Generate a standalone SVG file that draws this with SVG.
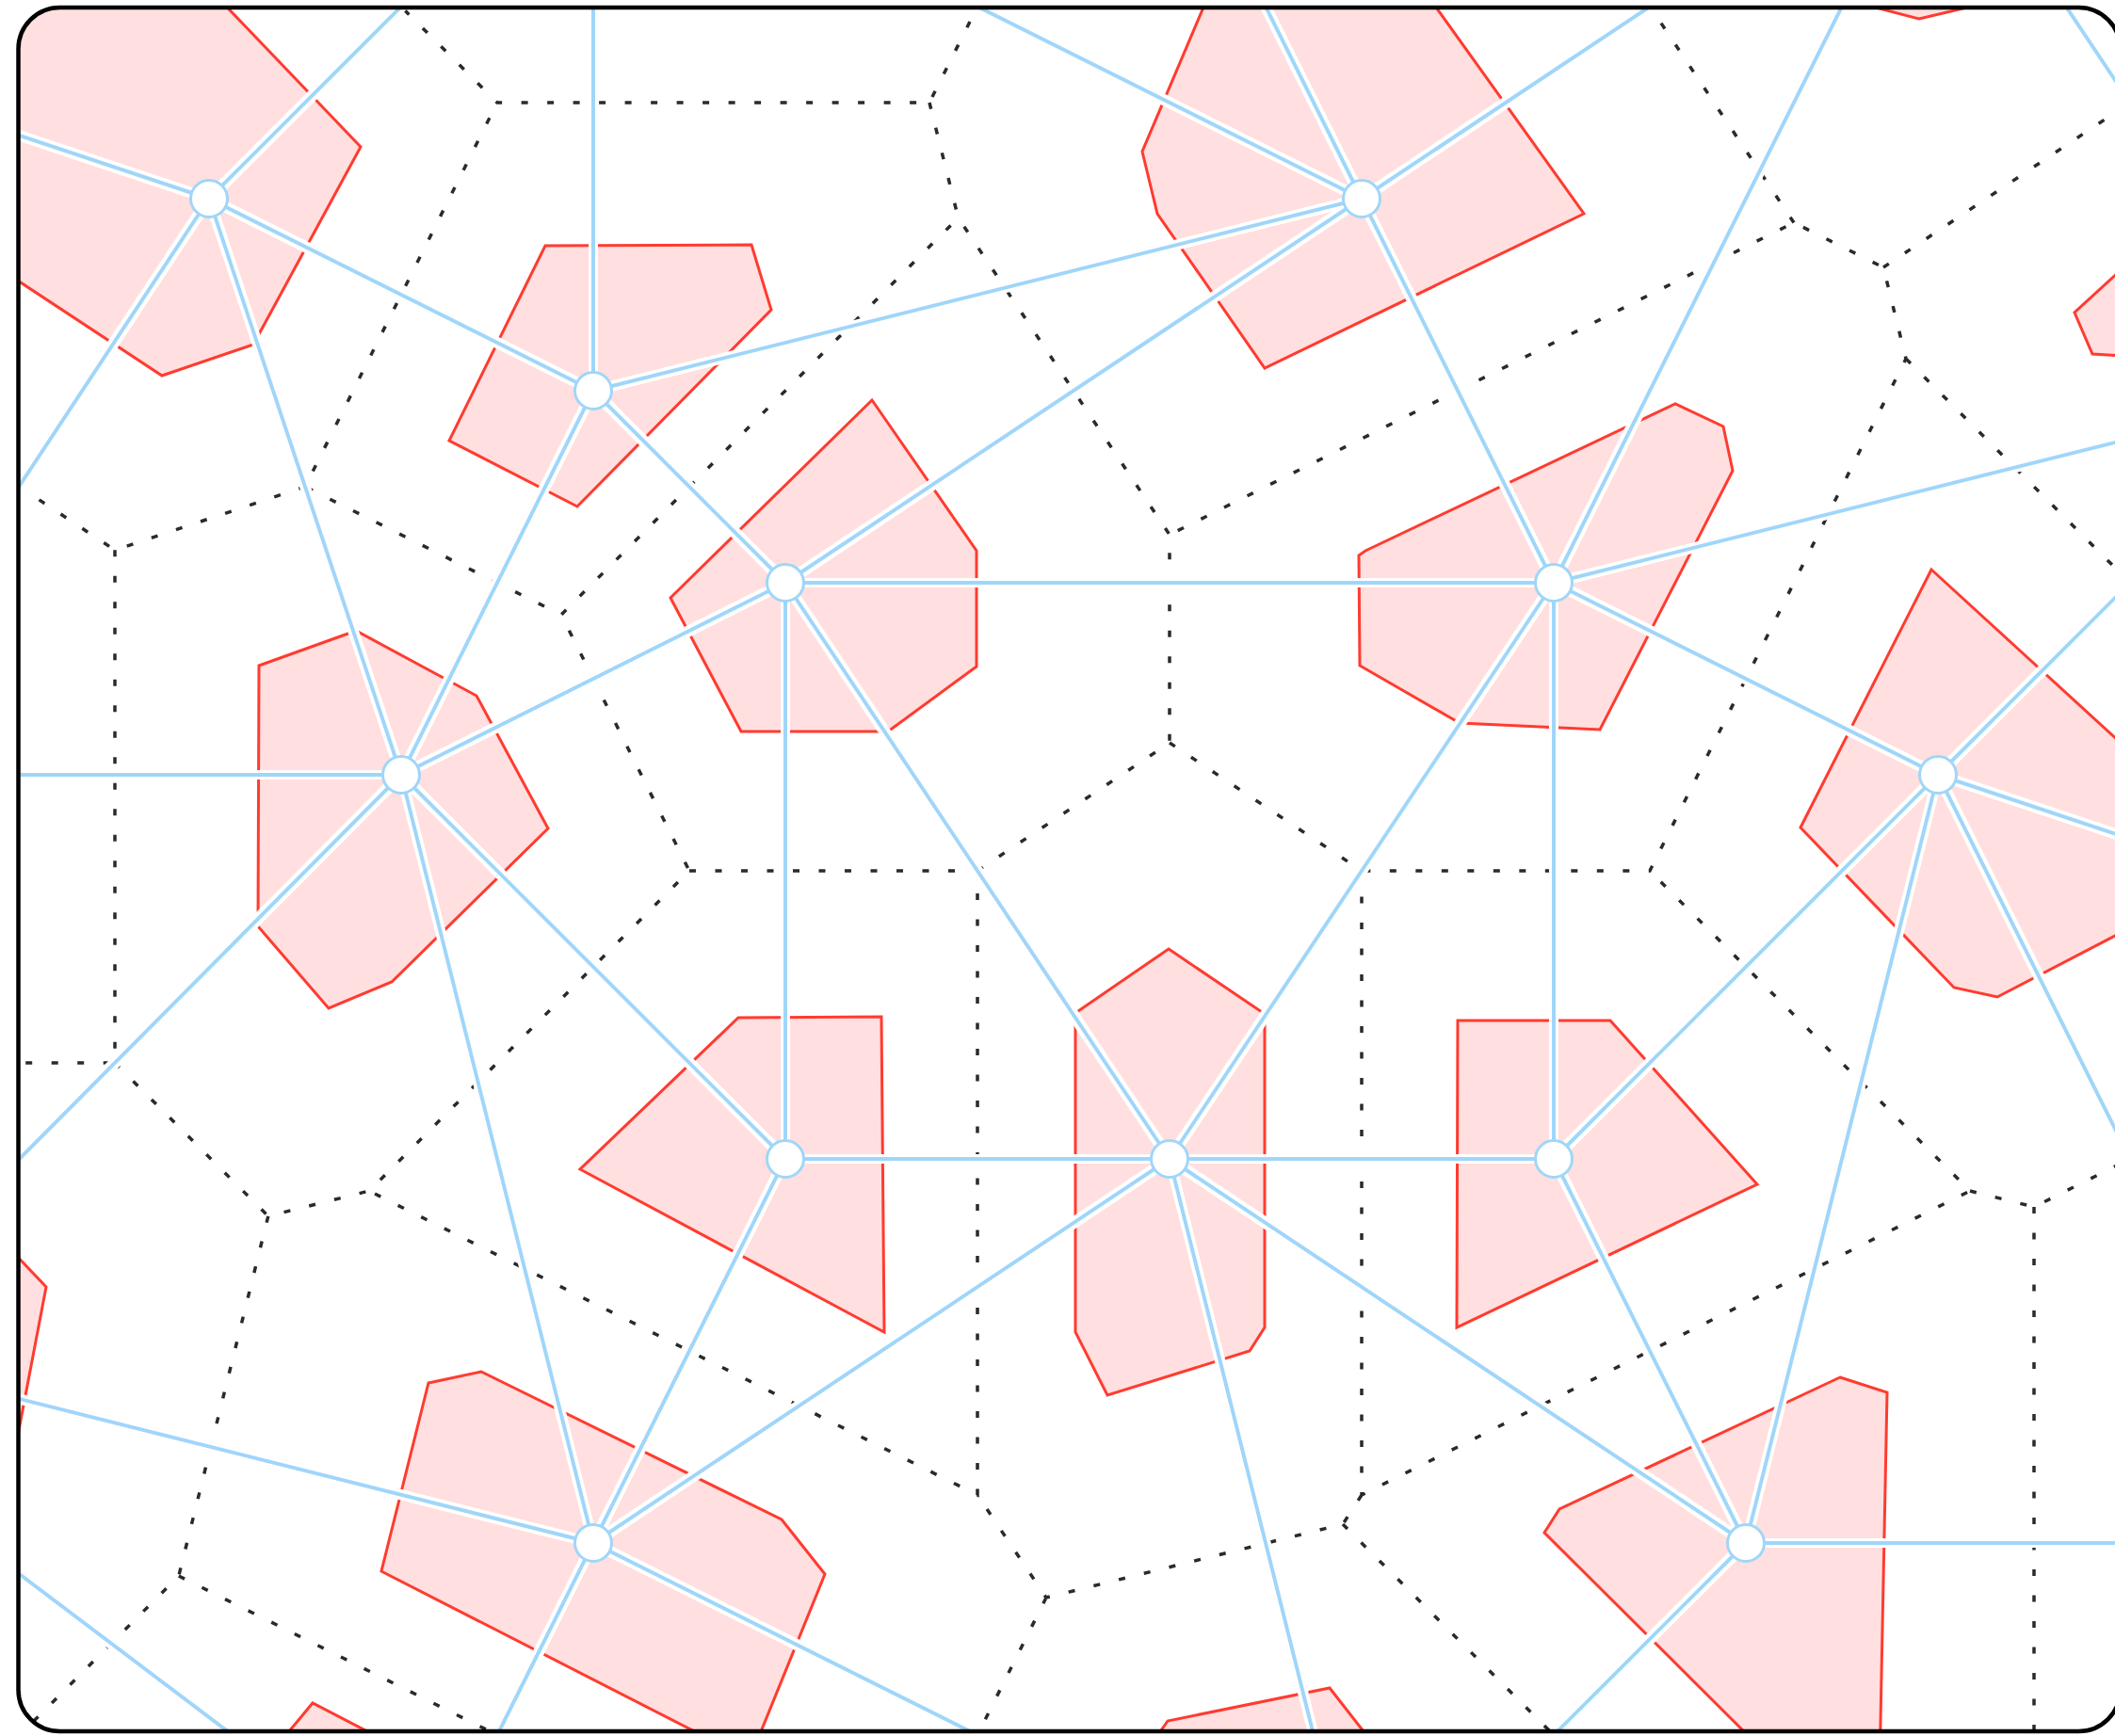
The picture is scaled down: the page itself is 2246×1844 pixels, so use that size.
<svg xmlns="http://www.w3.org/2000/svg" width="2246" height="1844" viewBox="0 0 2246 1844">
<style>
.cell{fill:#ffdfdf;stroke:#ff3b30;stroke-width:3;stroke-linejoin:miter}
.vor{fill:none;stroke:#2a2a2a;stroke-width:3.5;stroke-dasharray:7 20.5}
.edge{stroke:#9fd6f9;stroke-width:4;fill:none}
.node{fill:#fff;stroke:#9fd6f9;stroke-width:3}
</style>
<defs>
<clipPath id="frameClip"><rect x="19.5" y="8" width="2232" height="1831" rx="44"/></clipPath>
<filter id="halo" x="-5%" y="-5%" width="110%" height="110%">
<feMorphology in="SourceAlpha" operator="dilate" radius="2.5" result="d"/>
<feFlood flood-color="#ffffff"/>
<feComposite in2="d" operator="in" result="w"/>
<feMerge><feMergeNode in="w"/><feMergeNode in="SourceGraphic"/></feMerge>
</filter>
</defs>
<rect width="2246" height="1844" fill="#fff"/>
<g clip-path="url(#frameClip)">
<g id="cells">
<polygon id="cell-n1" class="cell" points="205,-30 383,156 269,366 172,399 -60,246 -60,-30"/>
<polygon id="cell-n2" class="cell" points="579,261 798,260 819,329 613,538 477,468"/>
<polygon id="cell-n3" class="cell" points="1294,-30 1213,161 1229,227 1343,391 1682,227 1498,-30"/>
<polygon id="cell-n4" class="cell" points="926,425 1037,585 1037,708 943,777 787,777 712,635"/>
<polygon id="cell-n5" class="cell" points="1450,585 1779,429 1830,453 1840,500 1699,775 1550,768 1444,707 1443,590"/>
<polygon id="cell-n6" class="cell" points="275,707 378,670 506,739 582,880 416,1043 349,1071 274,984"/>
<polygon id="cell-n7" class="cell" points="2051,605 2300,833 2300,966 2121,1059 2075,1049 1912,879"/>
<polygon id="cell-n8" class="cell" points="784,1081 936,1080 939,1415 616,1242"/>
<polygon id="cell-n9" class="cell" points="1241,1008 1343,1077 1343,1410 1327,1435 1176,1482 1142,1415 1142,1076"/>
<polygon id="cell-n10" class="cell" points="1548,1084 1710,1084 1866,1258 1547,1410"/>
<polygon id="cell-n11" class="cell" points="455,1469 511,1457 830,1614 876,1672 796,1869 405,1669"/>
<polygon id="cell-n12" class="cell" points="1954,1463 2004,1479 1996,1880 1893,1880 1640,1628 1656,1603"/>
<polygon id="cell-c" class="cell" points="1923,-10 2038,20 2165,-10"/>
<polygon id="cell-d" class="cell" points="2300,243 2203,332 2222,376 2300,381"/>
<polygon id="cell-f" class="cell" points="-60,1252 49,1367 0,1624 -60,1624"/>
<polygon id="cell-g" class="cell" points="273,1880 332,1809 469,1880"/>
<polygon id="cell-h" class="cell" points="1204,1880 1240,1828 1412,1793 1480,1880"/>
</g>
<g id="voronoi">
<path class="vor" d="M410,-9 L528,109 L987,109 L1046,-9 M987,109 L1017.6,231.4 L596,653 L324,517 L528,109 M324,517 L122,584.3 L-20,490 M122,584.3 L122,1129 L-20,1129 M122,1129 L284.8,1291.8 L392,1265 L732,925 L596,653 M284.8,1291.8 L189.8,1674 L-20,1884 M189.8,1674 L528,1843 M732,925 L1038,925 L1038,1588 L392,1265 M1038,925 L1242,789 L1242,568 L1017.6,231.4 M1242,789 L1446,925 L1752,925 L2024,381 L2000,284 L1905,236.5 L1242,568 M1905,236.5 L1741,-10 M2000,284 L2262,109 M2024,381 L2262,619 M1446,925 L1446,1588 L2092,1265 L1752,925 M1446,1588 L1426,1619 L1111,1697 L1038,1588 M1426,1619 L1650,1843 M1111,1697 L1038,1843 M2092,1265 L2160,1282 L2262,1231 M2160,1282 L2160,1843"/>
</g>
<g id="connectors" filter="url(#halo)">
<line class="edge" x1="222" y1="211" x2="630" y2="-197"/>
<line class="edge" x1="222" y1="211" x2="-390" y2="7"/>
<line class="edge" x1="222" y1="211" x2="-182" y2="823"/>
<line class="edge" x1="222" y1="211" x2="630" y2="415"/>
<line class="edge" x1="222" y1="211" x2="426" y2="823"/>
<line class="edge" x1="630" y1="415" x2="630" y2="-197"/>
<line class="edge" x1="630" y1="415" x2="1446" y2="211"/>
<line class="edge" x1="630" y1="415" x2="834" y2="619"/>
<line class="edge" x1="630" y1="415" x2="426" y2="823"/>
<line class="edge" x1="1446" y1="211" x2="630" y2="-197"/>
<line class="edge" x1="1446" y1="211" x2="1242" y2="-197"/>
<line class="edge" x1="1446" y1="211" x2="2058" y2="-197"/>
<line class="edge" x1="1446" y1="211" x2="834" y2="619"/>
<line class="edge" x1="1446" y1="211" x2="1650" y2="619"/>
<line class="edge" x1="834" y1="619" x2="1650" y2="619"/>
<line class="edge" x1="834" y1="619" x2="426" y2="823"/>
<line class="edge" x1="834" y1="619" x2="834" y2="1231"/>
<line class="edge" x1="834" y1="619" x2="1242" y2="1231"/>
<line class="edge" x1="1650" y1="619" x2="2058" y2="-197"/>
<line class="edge" x1="1650" y1="619" x2="2466" y2="415"/>
<line class="edge" x1="1650" y1="619" x2="2058" y2="823"/>
<line class="edge" x1="1650" y1="619" x2="1242" y2="1231"/>
<line class="edge" x1="1650" y1="619" x2="1650" y2="1231"/>
<line class="edge" x1="426" y1="823" x2="-182" y2="823"/>
<line class="edge" x1="426" y1="823" x2="-182" y2="1435"/>
<line class="edge" x1="426" y1="823" x2="834" y2="1231"/>
<line class="edge" x1="426" y1="823" x2="630" y2="1639"/>
<line class="edge" x1="2058" y1="823" x2="2466" y2="415"/>
<line class="edge" x1="2058" y1="823" x2="2670" y2="1027"/>
<line class="edge" x1="2058" y1="823" x2="2466" y2="1639"/>
<line class="edge" x1="2058" y1="823" x2="1650" y2="1231"/>
<line class="edge" x1="2058" y1="823" x2="1854" y2="1639"/>
<line class="edge" x1="834" y1="1231" x2="1242" y2="1231"/>
<line class="edge" x1="834" y1="1231" x2="630" y2="1639"/>
<line class="edge" x1="1242" y1="1231" x2="1650" y2="1231"/>
<line class="edge" x1="1242" y1="1231" x2="630" y2="1639"/>
<line class="edge" x1="1242" y1="1231" x2="1854" y2="1639"/>
<line class="edge" x1="1242" y1="1231" x2="1446" y2="2047"/>
<line class="edge" x1="1650" y1="1231" x2="1854" y2="1639"/>
<line class="edge" x1="630" y1="1639" x2="-182" y2="1435"/>
<line class="edge" x1="630" y1="1639" x2="426" y2="2047"/>
<line class="edge" x1="630" y1="1639" x2="1446" y2="2047"/>
<line class="edge" x1="1854" y1="1639" x2="1446" y2="2047"/>
<line class="edge" x1="1854" y1="1639" x2="2466" y2="1639"/>
<line class="edge" x1="2058" y1="-197" x2="2466" y2="415"/>
<line class="edge" x1="-100" y1="1581" x2="300" y2="1883"/>
</g>
<g id="nodes">
<g id="n1"><circle class="node" cx="222" cy="211" r="19.5"/></g>
<g id="n2"><circle class="node" cx="630" cy="415" r="19.5"/></g>
<g id="n3"><circle class="node" cx="1446" cy="211" r="19.5"/></g>
<g id="n4"><circle class="node" cx="834" cy="619" r="19.5"/></g>
<g id="n5"><circle class="node" cx="1650" cy="619" r="19.5"/></g>
<g id="n6"><circle class="node" cx="426" cy="823" r="19.5"/></g>
<g id="n7"><circle class="node" cx="2058" cy="823" r="19.5"/></g>
<g id="n8"><circle class="node" cx="834" cy="1231" r="19.5"/></g>
<g id="n9"><circle class="node" cx="1242" cy="1231" r="19.5"/></g>
<g id="n10"><circle class="node" cx="1650" cy="1231" r="19.5"/></g>
<g id="n11"><circle class="node" cx="630" cy="1639" r="19.5"/></g>
<g id="n12"><circle class="node" cx="1854" cy="1639" r="19.5"/></g>
</g>
</g>
<rect id="frame" x="19.5" y="8" width="2232" height="1831" rx="44" fill="none" stroke="#000" stroke-width="4.5"/>
</svg>
